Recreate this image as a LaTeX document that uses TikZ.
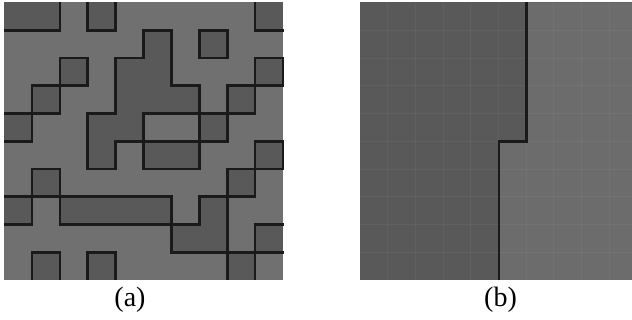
\documentclass[tikz,border=0pt]{standalone}
\usepackage{fontspec}
\setmainfont{Liberation Serif}
\definecolor{darkcell}{RGB}{89,89,89}
\definecolor{lightcell}{RGB}{112,112,112}
\definecolor{lightb}{RGB}{108,108,108}
\definecolor{edgeline}{RGB}{26,26,26}
\tikzset{
  bline/.style={draw=edgeline, line width=2.6pt, line cap=rect},
  faint/.style={draw=white, draw opacity=0.045, line width=0.9pt},
  caption/.style={font=\fontsize{28}{30}\selectfont, inner sep=0pt}
}
\def\M{{1,1,0,1,0,0,0,0,0,1,
        0,0,0,0,0,1,0,1,0,0,
        0,0,1,0,1,1,0,0,0,1,
        0,1,0,0,1,1,1,0,1,0,
        1,0,0,1,1,0,0,1,0,0,
        0,0,0,1,0,1,1,0,0,1,
        0,1,0,0,0,0,0,0,1,0,
        1,0,1,1,1,1,0,1,0,0,
        0,0,0,0,0,0,1,1,0,1,
        0,1,0,1,0,0,0,0,1,0}}
\begin{document}
\begin{tikzpicture}[x=1pt,y=-1pt]
\useasboundingbox (0,0) rectangle (632,320);
\fill[white] (0,0) rectangle (632,320);
\def\cw{27.9}
\def\ch{27.75}
% ---------- panel (a) ----------
\fill[lightcell] (4,2.5) rectangle (283,280);
\foreach \r in {0,...,9} {
  \foreach \c in {0,...,9} {
    \pgfmathtruncatemacro\v{\M[10*\r+\c]}
    \ifnum\v=1
      \fill[darkcell] ({4+\c*\cw},{2.5+\r*\ch}) rectangle ++(\cw,\ch);
    \fi
  }
}
\begin{scope}
\clip (4,2.5) rectangle (284.3,280);
% vertical boundaries
\foreach \r in {0,...,9} {
  \foreach \c in {0,...,8} {
    \pgfmathtruncatemacro\v{\M[10*\r+\c]}
    \pgfmathtruncatemacro\w{\M[10*\r+\c+1]}
    \ifnum\v=\w\else
      \draw[bline] ({4+(\c+1)*\cw},{2.5+\r*\ch}) -- ++(0,\ch);
    \fi
  }
}
% horizontal boundaries
\foreach \r in {0,...,8} {
  \foreach \c in {0,...,9} {
    \pgfmathtruncatemacro\v{\M[10*\r+\c]}
    \pgfmathtruncatemacro\w{\M[10*\r+\c+10]}
    \ifnum\v=\w\else
      \draw[bline] ({4+\c*\cw},{2.5+(\r+1)*\ch}) -- ++(\cw,0);
    \fi
  }
}
% right border pieces
\draw[bline] (283,{2.5+2*\ch}) -- (283,{2.5+3*\ch});
\draw[bline] (283,{2.5+5*\ch}) -- (283,{2.5+6*\ch});
\end{scope}
% ---------- panel (b) ----------
\fill[darkcell] (360,2.5) rectangle (632,280);
\fill[lightb] (526.7,2.5) -- (632,2.5) -- (632,280) -- (499,280) -- (499,141.25) -- (526.7,141.25) -- cycle;
\foreach \i in {1,...,9} {
  \draw[faint] ({360+\i*27.7},2.5) -- ({360+\i*27.7},280);
  \draw[faint] (360,{2.5+\i*\ch}) -- (632,{2.5+\i*\ch});
}
\coordinate (btop) at (526.7,2.5);
\coordinate (bmid1) at (526.7,141.25);
\coordinate (bmid2) at (499,141.25);
\coordinate (bbot) at (499,280);
\draw[bline, line cap=butt] (btop) -- (bmid1) -- (bmid2) -- (bbot);
% ---------- captions ----------
\node[caption] (capa) at (130,300) {(a)};
\node[caption] (capb) at (500.5,300) {(b)};
\end{tikzpicture}
\end{document}
